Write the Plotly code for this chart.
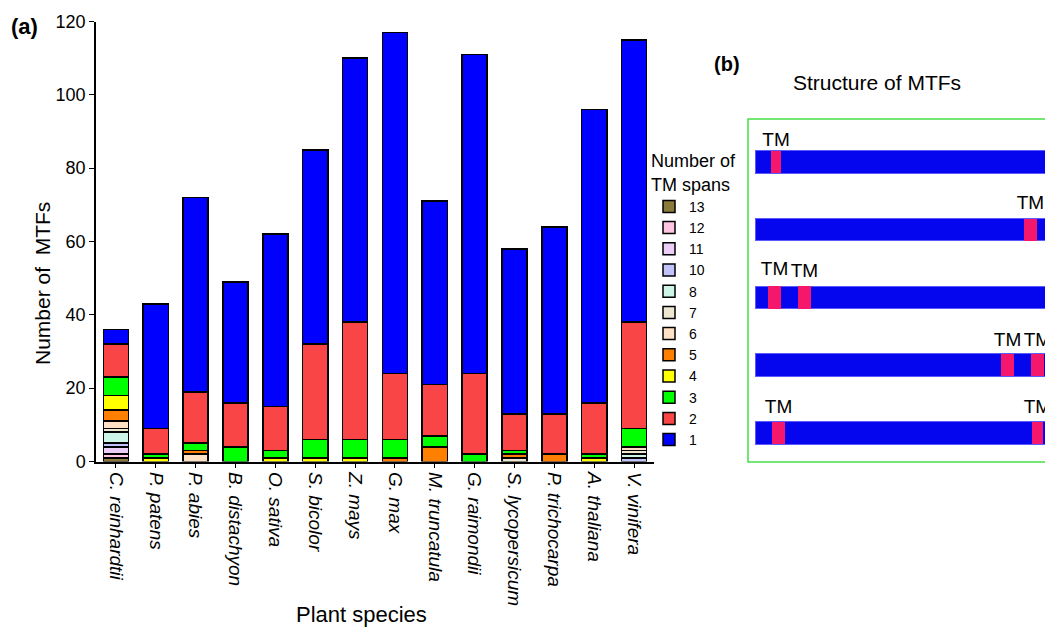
import plotly.graph_objects as go

# ---------------- data: panel (a) ----------------
species = ["C. reinhardtii", "P. patens", "P. abies", "B. distachyon", "O. sativa",
           "S. bicolor", "Z. mays", "G. max", "M. truncatula", "G. raimondii",
           "S. lycopersicum", "P. trichocarpa", "A. thaliana", "V. vinifera"]

# number of MTFs per species for each TM-span class (stack order: bottom -> top)
span_labels = ["13", "12", "11", "10", "8", "7", "6", "5", "4", "3", "2", "1"]
tm13 = [1, 0, 0, 0, 0, 0, 0, 0, 0, 0, 0, 0, 0, 0]
tm12 = [1, 0, 0, 0, 0, 0, 0, 0, 0, 0, 0, 0, 0, 0]
tm11 = [2, 0, 0, 0, 0, 0, 0, 0, 0, 0, 0, 0, 0, 0]
tm10 = [1, 0, 0, 0, 0, 0, 0, 0, 0, 0, 0, 0, 0, 1]
tm8 = [3, 0, 0, 0, 0, 0, 0, 0, 0, 0, 0, 0, 0, 1]
tm7 = [1, 0, 0, 0, 0, 0, 0, 0, 0, 0, 1, 0, 0, 1]
tm6 = [2, 0, 2, 0, 0, 0, 0, 0, 0, 0, 0, 0, 0, 1]
tm5 = [3, 0, 1, 0, 0, 0, 0, 1, 4, 0, 1, 2, 0, 0]
tm4 = [4, 1, 0, 0, 1, 1, 1, 0, 0, 0, 0, 0, 1, 0]
tm3 = [5, 1, 2, 4, 2, 5, 5, 5, 3, 2, 1, 0, 1, 5]
tm2 = [9, 7, 14, 12, 12, 26, 32, 18, 14, 22, 10, 11, 14, 29]
tm1 = [4, 34, 53, 33, 47, 53, 72, 93, 50, 87, 45, 51, 80, 77]
span_values = [tm13, tm12, tm11, tm10, tm8, tm7, tm6, tm5, tm4, tm3, tm2, tm1]
span_colors = ["#8C7A3C", "#FFC4E2", "#EBCDF6", "#C2C2FA", "#CCF5E8", "#EDE7D2",
               "#FFE1C6", "#FF8000", "#FFFF00", "#00FF00", "#F94545", "#0000FF"]

y_ticks = [0, 20, 40, 60, 80, 100, 120]

# ---------------- data: panel (b) schematic ----------------
protein_rows = [0, 1, 2, 3, 4]
protein_start = [2.6, 2.6, 2.6, 2.6, 2.6]
protein_end = [130, 130, 130, 130, 130]
tm_row = [0, 1, 2, 2, 3, 3, 4, 4]
tm_center = [9.2, 92.6, 8.7, 18.5, 85.1, 94.9, 10.0, 94.9]
tm_width = [3.4, 4.2, 4.2, 4.2, 4.2, 4.2, 4.2, 3.8]
tm_text = ["TM"] * len(tm_center)
label_offset = [0.31, 0.37, 0.4, 0.37, 0.36, 0.36, 0.36, 0.36]

# page is shown with the browser's default 8px body margin
OFF = 8
W, H = 1053 - OFF, 627 - OFF
FONT = "Liberation Sans, Arial, sans-serif"


def px(x):
    return (x - OFF) / W


def py(y):
    return 1 - (y - OFF) / H


fig = go.Figure()

for lab, vals, col in zip(span_labels, span_values, span_colors):
    fig.add_trace(go.Bar(
        x=species, y=[v if v else None for v in vals], name=lab,
        marker=dict(color=col, line=dict(color="black", width=1.5)),
        xaxis="x", yaxis="y",
    ))

# panel (b): protein bars
fig.add_trace(go.Bar(
    y=protein_rows, base=protein_start,
    x=[e - s for s, e in zip(protein_start, protein_end)],
    orientation="h", width=0.33, showlegend=False,
    marker=dict(color="#0505EE", line=dict(color="#5A5AFF", width=1)),
    xaxis="x2", yaxis="y2", hoverinfo="skip",
))
fig.add_trace(go.Bar(
    y=tm_row, base=[c - w / 2 for c, w in zip(tm_center, tm_width)],
    x=tm_width, orientation="h", width=0.33, showlegend=False,
    marker=dict(color="#F5176B", line=dict(color="#F5176B", width=0)),
    xaxis="x2", yaxis="y2", hoverinfo="skip",
))
fig.add_trace(go.Scatter(
    x=tm_center, y=[r - o for r, o in zip(tm_row, label_offset)],
    mode="text", text=tm_text,
    textfont=dict(family=FONT, size=19, color="black"), showlegend=False,
    xaxis="x2", yaxis="y2", cliponaxis=False, hoverinfo="skip",
))

fig.update_layout(
    width=W, height=H,
    margin=dict(l=0, r=0, t=0, b=0),
    paper_bgcolor="white", plot_bgcolor="white",
    barmode="stack", bargap=0.37,
    font=dict(family=FONT, color="black"),
    xaxis=dict(
        domain=[px(96), px(654)], automargin=False,
        showline=True, linecolor="black", linewidth=1.5,
        ticks="outside", ticklen=5, tickwidth=1.2, tickcolor="black",
        tickangle=90, tickfont=dict(family=FONT, size=19, style="italic"),
        showgrid=False, zeroline=False,
    ),
    yaxis=dict(
        domain=[py(461.5), py(21.5)], range=[0, 120], automargin=False,
        tickvals=y_ticks, ticktext=[str(t) for t in y_ticks],
        showline=True, linecolor="black", linewidth=1.5,
        ticks="outside", ticklen=5, tickwidth=1.2, tickcolor="black",
        tickfont=dict(family=FONT, size=18),
        showgrid=False, zeroline=False,
    ),
    xaxis2=dict(domain=[px(748), 1.0], range=[0, 100], visible=False,
                anchor="y2"),
    yaxis2=dict(domain=[py(462), py(119)], range=[4.43, -0.635],
                visible=False, anchor="x2"),
    legend=dict(
        x=px(649), y=py(144), xanchor="left", yanchor="top",
        traceorder="normal", bgcolor="rgba(0,0,0,0)",
        font=dict(family=FONT, size=14),
        title=dict(text="Number of<br>TM spans", font=dict(family=FONT, size=18)),
        itemclick=False,
    ),
    showlegend=True,
    shapes=[dict(type="rect", xref="paper", yref="paper",
                 x0=px(748), x1=1.05, y0=py(462), y1=py(119),
                 line=dict(color="#45DE45", width=1.5), fillcolor="rgba(0,0,0,0)")],
    annotations=[
        dict(text="<b>(a)</b>", x=px(9), y=py(27), xref="paper", yref="paper",
             xanchor="left", yanchor="middle", showarrow=False,
             font=dict(family=FONT, size=22)),
        dict(text="<b>(b)</b>", x=px(712), y=py(64), xref="paper", yref="paper",
             xanchor="left", yanchor="middle", showarrow=False,
             font=dict(family=FONT, size=20)),
        dict(text="Structure of MTFs", x=px(877), y=py(82), xref="paper", yref="paper",
             xanchor="center", yanchor="middle", showarrow=False,
             font=dict(family=FONT, size=21)),
        dict(text="Number of  MTFs", x=px(42), y=py(284), xref="paper", yref="paper",
             xanchor="center", yanchor="middle", showarrow=False, textangle=-90,
             font=dict(family=FONT, size=21)),
        dict(text="Plant species", x=px(361), y=py(614), xref="paper", yref="paper",
             xanchor="center", yanchor="middle", showarrow=False,
             font=dict(family=FONT, size=22)),
    ],
)

fig.write_html(
    "out.html",
    post_script="document.documentElement.style.overflow='hidden';"
                "document.body.style.overflow='hidden';",
)
